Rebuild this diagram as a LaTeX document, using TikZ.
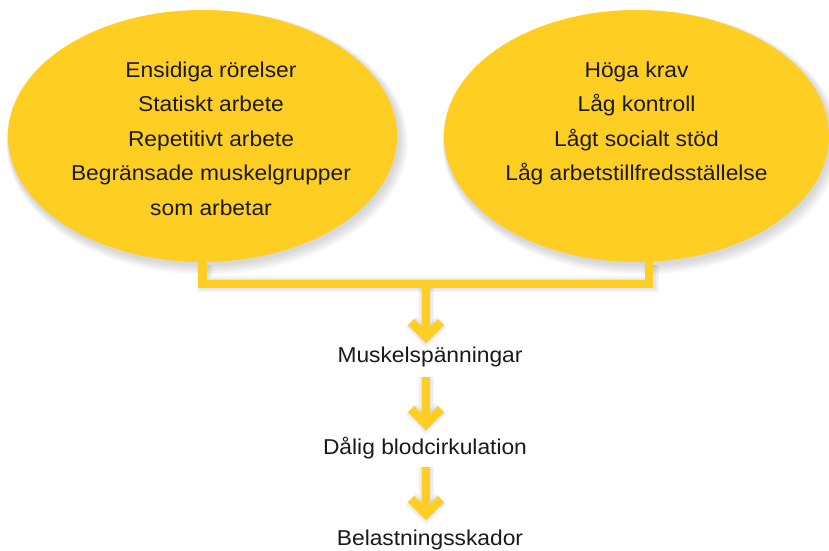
\documentclass[tikz,border=0pt]{standalone}
\usepackage{fontspec}
\setmainfont{Liberation Sans}[FakeStretch=1.06]
\usetikzlibrary{shapes.geometric}
\definecolor{yel}{RGB}{255,206,35}
\definecolor{ink}{RGB}{26,26,26}
\tikzset{
  blob/.style={ellipse, fill=yel, inner sep=0pt},
  txt/.style={text=ink, inner sep=0pt, align=center, font=\fontsize{21.5}{34.5}\selectfont},
  bar/.style={draw=yel, line width=8.5pt, line join=miter, line cap=butt},
  chev/.style={draw=yel, line width=8.5pt, line join=miter, miter limit=4, line cap=butt},
  shade/.style={draw=black, opacity=0.035, line join=miter, line cap=butt},
}
\begin{document}
\begin{tikzpicture}[x=1pt,y=-1pt]
\useasboundingbox (0,0) rectangle (829,550);
% coordinates
\coordinate (j) at (426,284);
\coordinate (t1) at (426,337);
\coordinate (s2) at (426,377);
\coordinate (t2) at (426,424);
\coordinate (s3) at (426,467);
\coordinate (t3) at (426,514);
% soft shadows
\foreach \i in {1,...,7}{
  \fill[black, opacity=0.025] (203.5+\i*0.5,138+\i*0.6) ellipse [x radius={194.5+\i*0.9}, y radius={126+\i*0.9}];
  \fill[black, opacity=0.025] (637.5+\i*0.5,138+\i*0.6) ellipse [x radius={192.5+\i*0.9}, y radius={126+\i*0.9}];
}
\foreach \w in {10,13,16}{
  \begin{scope}[xshift=2pt,yshift=-3pt]
    \draw[shade, line width=\w pt] (202.5,262) |- (j) -| (649,262);
    \draw[shade, line width=\w pt] (j) -- (t1);
    \draw[shade, line width=\w pt] (t1) ++(-15,-15) -- (t1) -- ++(15,-15);
    \draw[shade, line width=\w pt] (s2) -- (t2);
    \draw[shade, line width=\w pt] (t2) ++(-15,-15) -- (t2) -- ++(15,-15);
    \draw[shade, line width=\w pt] (s3) -- (t3);
    \draw[shade, line width=\w pt] (t3) ++(-15,-15) -- (t3) -- ++(15,-15);
  \end{scope}
}
% ellipses
\node[blob, minimum width=389pt, minimum height=252pt] (L) at (202.5,136) {};
\node[blob, minimum width=385pt, minimum height=252pt] (R) at (636.5,136) {};
% texts
\node[txt, anchor=north] (Lt) at (211,61.5) {Ensidiga rörelser\\Statiskt arbete\\Repetitivt arbete\\Begränsade muskelgrupper\\som arbetar};
\node[txt, anchor=north] (Rt) at (636.5,61.5) {Höga krav\\Låg kontroll\\Lågt socialt stöd\\Låg arbetstillfredsställelse};
\node[txt, anchor=base] (m) at (430,362.7) {Muskelspänningar};
\node[txt, anchor=base] (d) at (425,454.5) {Dålig blodcirkulation};
\node[txt, anchor=base] (b) at (430,545) {Belastningsskador};
% connectors
\draw[bar] ([yshift=14pt]L.south) |- (j) -| ([xshift=12.5pt,yshift=14pt]R.south);
\draw[bar] (j) -- (t1);
\draw[chev] (t1) ++(-15,-15) -- (t1) -- ++(15,-15);
\draw[bar] (s2) -- (t2);
\draw[chev] (t2) ++(-15,-15) -- (t2) -- ++(15,-15);
\draw[bar] (s3) -- (t3);
\draw[chev] (t3) ++(-15,-15) -- (t3) -- ++(15,-15);
\end{tikzpicture}
\end{document}
